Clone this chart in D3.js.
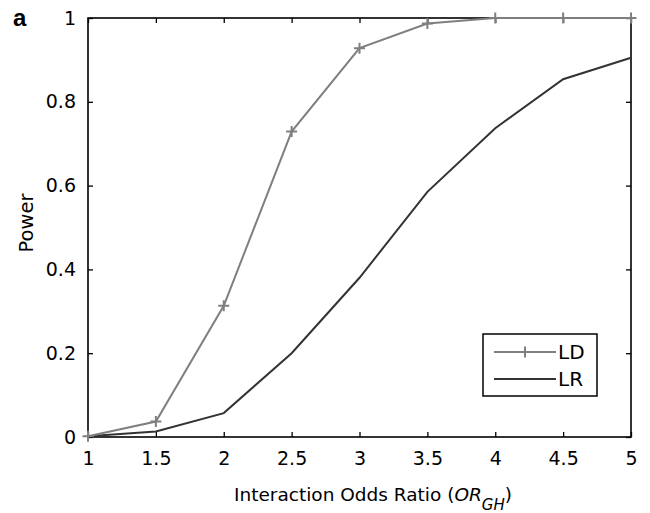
<!DOCTYPE html>
<html>
<head>
<meta charset="utf-8">
<script src="https://cdn.jsdelivr.net/npm/d3@7"></script>
<style>
  body { margin: 0; background: #fff; }
  text { font-family: "DejaVu Sans", "Liberation Sans", Arial, sans-serif; }
</style>
</head>
<body>
<div id="wrapper"></div>
<script>
const oddsRatios = [1, 1.5, 2, 2.5, 3, 3.5, 4, 4.5, 5]
const ldPower = [0.002, 0.037, 0.313, 0.729, 0.928, 0.987, 1, 1, 1]
const lrPower = [0.002, 0.013, 0.057, 0.200, 0.380, 0.585, 0.737, 0.854, 0.905]
const xTicks = [1, 1.5, 2, 2.5, 3, 3.5, 4, 4.5, 5]
const yTicks = [0, 0.2, 0.4, 0.6, 0.8, 1]

const dimensions = {
  width: 650,
  height: 513,
  margins: { top: 18, right: 19, bottom: 76, left: 88 }
}
dimensions.boundedWidth = dimensions.width - dimensions.margins.left - dimensions.margins.right
dimensions.boundedHeight = dimensions.height - dimensions.margins.top - dimensions.margins.bottom

const svg = d3.select("#wrapper")
  .append("svg")
    .attr("width", dimensions.width)
    .attr("height", dimensions.height)

const bounds = svg.append("g")
    .attr("transform", `translate(${dimensions.margins.left},${dimensions.margins.top})`)

const xScale = d3.scaleLinear()
  .domain([1, 5])
  .range([0, dimensions.boundedWidth])

const yScale = d3.scaleLinear()
  .domain([0, 1])
  .range([dimensions.boundedHeight, 0])

// axes, ticks pointing inward on all four sides
const styleAxis = g => {
  g.select(".domain").remove()
  g.selectAll(".tick line").attr("stroke", "#000").attr("stroke-width", 1.3)
  g.selectAll(".tick text").attr("fill", "#000").style("font-size", "19px")
}

bounds.append("g")
    .attr("transform", `translate(0,${dimensions.boundedHeight})`)
    .call(d3.axisBottom(xScale).tickValues(xTicks).tickSizeInner(-5).tickSizeOuter(0).tickPadding(15).tickFormat(d3.format("")))
    .call(styleAxis)

bounds.append("g")
    .call(d3.axisTop(xScale).tickValues(xTicks).tickSizeInner(-5).tickSizeOuter(0).tickFormat(""))
    .call(styleAxis)

bounds.append("g")
    .call(d3.axisLeft(yScale).tickValues(yTicks).tickSizeInner(-5).tickSizeOuter(0).tickPadding(12).tickFormat(d3.format("")))
    .call(styleAxis)

bounds.append("g")
    .attr("transform", `translate(${dimensions.boundedWidth},0)`)
    .call(d3.axisRight(yScale).tickValues(yTicks).tickSizeInner(-5).tickSizeOuter(0).tickFormat(""))
    .call(styleAxis)

bounds.append("rect")
    .attr("width", dimensions.boundedWidth)
    .attr("height", dimensions.boundedHeight)
    .attr("fill", "none")
    .attr("stroke", "#000")
    .attr("stroke-width", 1.6)

// lines
const powerLine = d3.line()
    .x((d, i) => xScale(oddsRatios[i]))
    .y(d => yScale(d))

bounds.append("path")
    .attr("d", powerLine(lrPower))
    .attr("fill", "none")
    .attr("stroke", "#333")
    .attr("stroke-width", 2)

bounds.append("path")
    .attr("d", powerLine(ldPower))
    .attr("fill", "none")
    .attr("stroke", "#7f7f7f")
    .attr("stroke-width", 2)

const crossPath = s => `M${-s},0H${s}M0,${-s}V${s}`

bounds.selectAll(".ld-marker")
  .data(ldPower)
  .join("path")
    .attr("class", "ld-marker")
    .attr("transform", (d, i) => `translate(${xScale(oddsRatios[i])},${yScale(d)})`)
    .attr("d", crossPath(5.5))
    .attr("stroke", "#7f7f7f")
    .attr("stroke-width", 2)

// legend
const legend = svg.append("g")
    .attr("transform", "translate(483,334)")

legend.append("rect")
    .attr("width", 114)
    .attr("height", 62)
    .attr("fill", "#fff")
    .attr("stroke", "#000")
    .attr("stroke-width", 1.5)

const legendItems = [
  { label: "LD", color: "#7f7f7f", marker: true, y: 18 },
  { label: "LR", color: "#333", marker: false, y: 45 }
]
legendItems.forEach(item => {
  legend.append("line")
      .attr("x1", 11).attr("x2", 73)
      .attr("y1", item.y).attr("y2", item.y)
      .attr("stroke", item.color)
      .attr("stroke-width", 2)
  if (item.marker) {
    legend.append("path")
        .attr("transform", `translate(42,${item.y})`)
        .attr("d", crossPath(5.5))
        .attr("stroke", item.color)
        .attr("stroke-width", 2)
  }
  legend.append("text")
      .attr("x", 75)
      .attr("y", item.y + 7)
      .style("font-size", "20px")
      .text(item.label)
})

// labels
const xLabel = svg.append("text")
    .attr("x", 234)
    .attr("y", 501)
    .style("font-size", "18.5px")
xLabel.append("tspan").text("Interaction Odds Ratio (")
xLabel.append("tspan").style("font-style", "italic").text("OR")
xLabel.append("tspan").style("font-style", "italic").style("font-size", "15px").attr("dy", 9).text("GH")
xLabel.append("tspan").attr("dy", -9).text(")")

svg.append("text")
    .attr("transform", `translate(33,223) rotate(-90)`)
    .attr("text-anchor", "middle")
    .style("font-size", "19.5px")
    .text("Power")

svg.append("text")
    .attr("x", 13)
    .attr("y", 26)
    .style("font-family", "'Liberation Sans', Arial, sans-serif")
    .style("font-size", "24px")
    .style("font-weight", "bold")
    .text("a")
</script>
</body>
</html>
